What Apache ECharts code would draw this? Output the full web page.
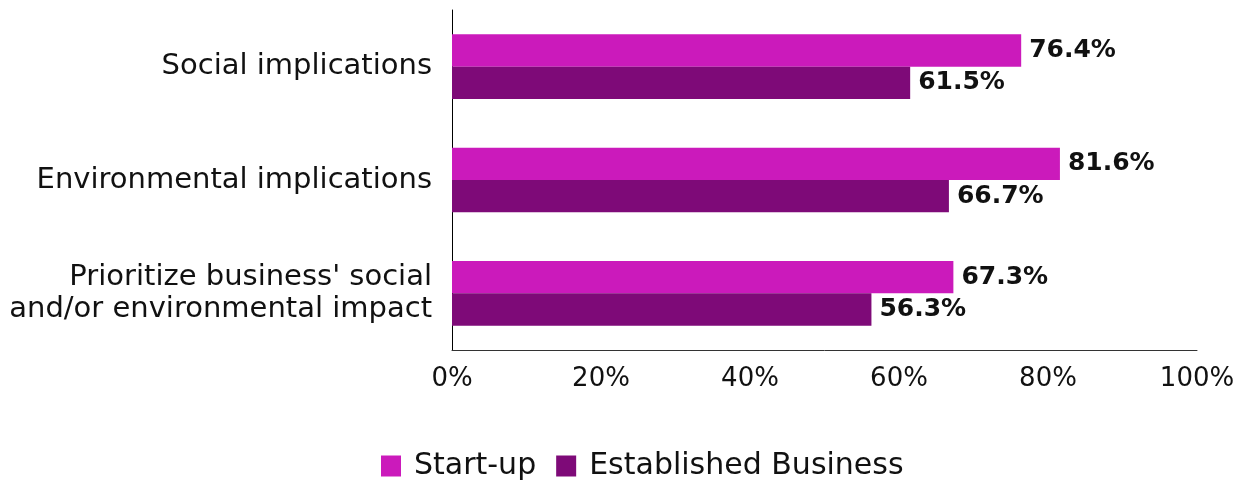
<!DOCTYPE html>
<html>
<head>
<meta charset="utf-8">
<script src="https://cdn.jsdelivr.net/npm/echarts@6/dist/echarts.min.js"></script>
<style>
  html, body { margin: 0; padding: 0; background: #fff; }
  #chart { width: 1250px; height: 481px; }
</style>
</head>
<body>
<div id="chart"></div>
<script>
// Survey categories, top to bottom
const categories = [
  'Social implications',
  'Environmental implications',
  "Prioritize business' social\nand/or environmental impact"
];
const seriesNames = ['Start-up', 'Established Business'];
const startUp = [76.4, 81.6, 67.3];
const established = [61.5, 66.7, 56.3];
const xTicks = [0, 20, 40, 60, 80, 100];

const FONT = '"DejaVu Sans", sans-serif';
const colors = ['#CB1ABB', '#7E0A78'];

const chart = echarts.init(document.getElementById('chart'), null, { renderer: 'canvas' });

const labelStyle = {
  show: true,
  position: 'right',
  distance: 8,
  color: '#111',
  fontFamily: FONT,
  fontWeight: 'bold',
  fontSize: 25,
  formatter: p => p.value.toFixed(1) + '%'
};

chart.setOption({
  animation: false,
  color: colors,
  grid: { left: 452, right: 53, top: 10, bottom: 131, containLabel: false },
  legend: {
    top: 446,
    left: 376,
    itemWidth: 20,
    itemHeight: 21,
    itemGap: 20,
    icon: 'rect',
    textStyle: { fontFamily: FONT, fontSize: 30, color: '#111', padding: [0, 0, 0, 8] },
    data: seriesNames
  },
  xAxis: {
    type: 'value',
    min: xTicks[0],
    max: xTicks[xTicks.length - 1],
    interval: 20,
    axisLine: { show: true, lineStyle: { color: '#333', width: 1 } },
    axisTick: { show: false },
    splitLine: { show: false },
    axisLabel: {
      margin: 16,
      fontFamily: FONT,
      fontSize: 26,
      color: '#111',
      formatter: v => v + '%'
    }
  },
  yAxis: {
    type: 'category',
    inverse: true,
    data: categories,
    axisLine: { show: true, lineStyle: { color: '#000', width: 1 } },
    axisTick: { show: false },
    axisLabel: {
      margin: 20,
      fontFamily: FONT,
      fontSize: 29,
      lineHeight: 32,
      color: '#111',
      align: 'right'
    }
  },
  series: [
    {
      name: seriesNames[0],
      type: 'bar',
      data: startUp,
      barGap: '0%',
      barCategoryGap: '43%',
      label: labelStyle
    },
    {
      name: seriesNames[1],
      type: 'bar',
      data: established,
      barGap: '0%',
      barCategoryGap: '43%',
      label: labelStyle
    }
  ]
});
</script>
</body>
</html>
